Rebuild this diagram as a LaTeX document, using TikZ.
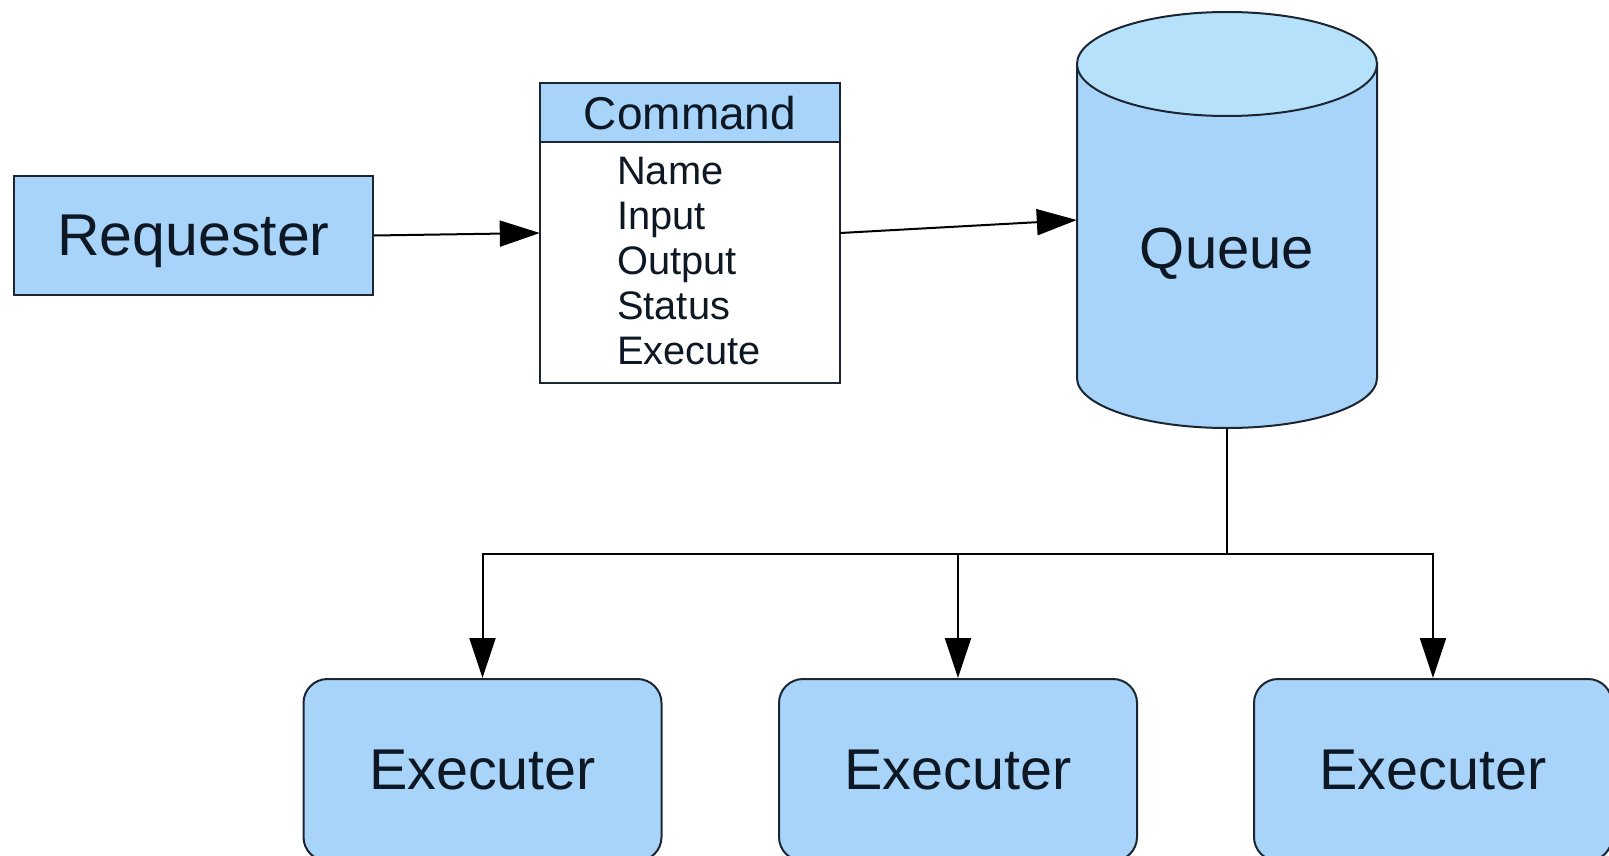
\documentclass[tikz,border=0pt]{standalone}
\usepackage{fontspec}
\setmainfont{Liberation Sans}
\usetikzlibrary{arrows.meta}

\definecolor{boxblue}{HTML}{A7D4F8}
\definecolor{capblue}{HTML}{B6E1FB}
\definecolor{edge}{HTML}{1C2633}
\definecolor{ink}{HTML}{0E1724}

\tikzset{
  every node/.style={text=ink},
  shapeline/.style={draw=edge, line width=2pt},
  mainbox/.style={shapeline, fill=boxblue, rectangle, inner sep=0pt,
    font=\fontsize{58}{60}\selectfont},
  execbox/.style={mainbox, rounded corners=24pt, minimum width=358pt, minimum height=182pt},
  link/.style={draw=black, line width=2pt},
  flow/.style={link, -{Triangle[length=40pt, width=26pt]}},
}

\begin{document}
\begin{tikzpicture}[x=1pt, y=-1pt]
  \useasboundingbox[fill=white] (0,0) rectangle (1609,856);

  % requester
  \node[mainbox, font=\fontsize{59}{60}\selectfont, text depth=0pt,
        minimum width=359pt, minimum height=119pt] (req) at (193.5,235.5) {Requester};

  % command class box with header
  \node[rectangle, inner sep=0pt, minimum width=300pt, minimum height=300pt, fill=white] (cmd) at (690,233) {};
  \fill[boxblue] (cmd.north west) rectangle (cmd.east |- 0,142);
  \draw[shapeline] (cmd.west |- 0,142) -- (cmd.east |- 0,142);
  \draw[shapeline] (cmd.north west) rectangle (cmd.south east);
  \node[font=\fontsize{46}{50}\selectfont] (cmdtitle) at (690,113) {Command};
  \node[anchor=west, align=left, inner sep=0pt, font=\fontsize{39.8}{45}\selectfont] (cmdattrs) at (617,261)
    {Name\\Input\\Output\\Status\\Execute};

  % queue cylinder
  \node[rectangle, inner sep=0pt, minimum width=300pt, minimum height=416pt] (queue) at (1227,220) {};
  \path[shapeline, fill=boxblue] (1077,64) -- (1077,378)
    arc[start angle=180, end angle=360, x radius=150pt, y radius=50pt]
    -- (1377,64) -- cycle;
  \draw[shapeline, fill=capblue] (1227,64) ellipse[x radius=150pt, y radius=52pt];
  \node[font=\fontsize{58}{60}\selectfont] (queuetext) at (1227,254) {Queue};

  % executers
  \node[execbox, font=\fontsize{57.5}{60}\selectfont] (e1) at (482.5,770) {Executer};
  \node[execbox, font=\fontsize{57.5}{60}\selectfont] (e2) at (958,770) {Executer};
  \node[execbox, font=\fontsize{57.5}{60}\selectfont] (e3) at (1433,770) {Executer};

  % connectors
  \draw[flow] (req.east) -- (cmd.west);
  \draw[flow] (cmd.east) -- (queue.west);
  \coordinate (bus) at (1227,554);
  \draw[link] (queue.south) -- (bus);
  \draw[flow] (bus) -| (e1.north);
  \draw[flow] (bus) -| (e2.north);
  \draw[flow] (bus) -| (e3.north);
\end{tikzpicture}
\end{document}
